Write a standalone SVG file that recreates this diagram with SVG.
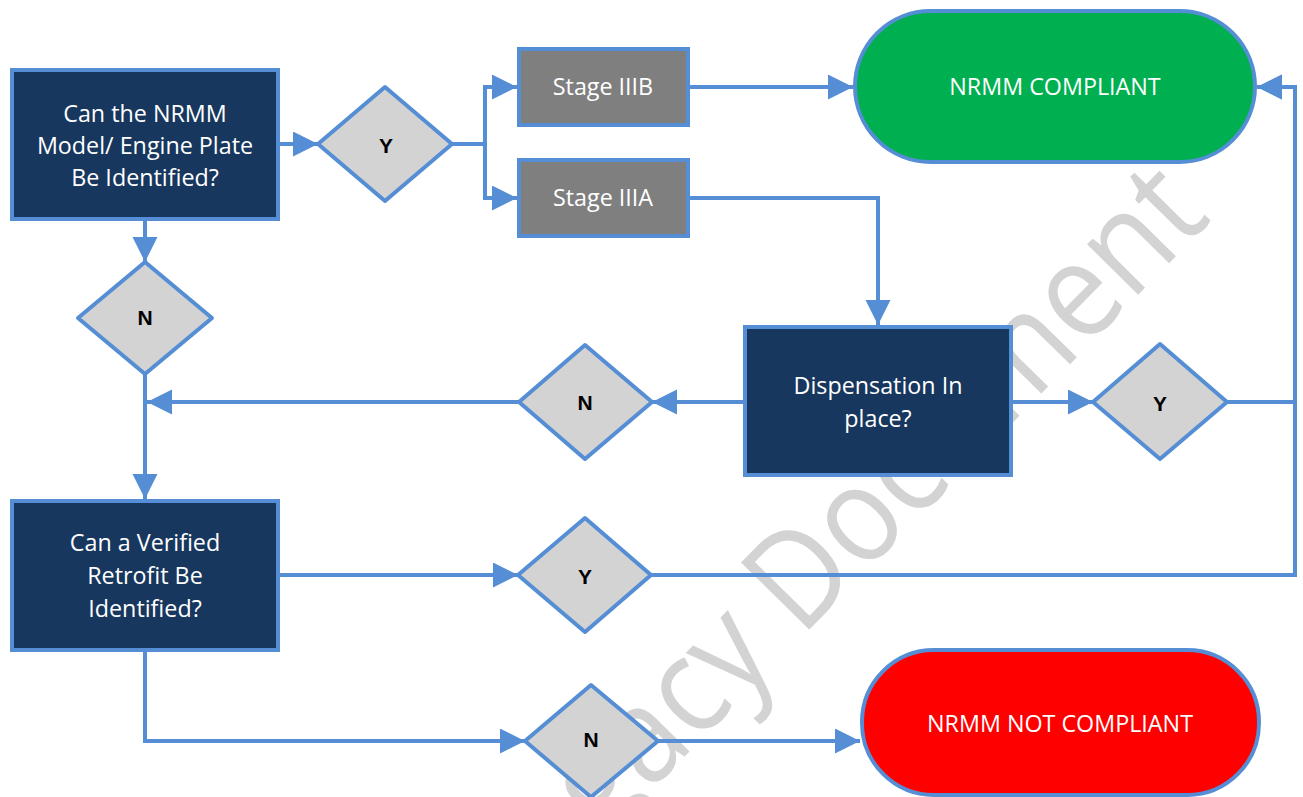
<svg xmlns="http://www.w3.org/2000/svg" width="1303" height="797" viewBox="0 0 1303 797">
  <defs>
    <marker id="arr" markerUnits="userSpaceOnUse" markerWidth="26" markerHeight="26" refX="25" refY="12.5" orient="auto">
      <path d="M0,0 L25,12.5 L0,25 z" fill="#558ED5"/>
    </marker>
    <style>
      .box { fill: #17375E; stroke: #558ED5; stroke-width: 4; }
      .stage { fill: #7F7F7F; stroke: #558ED5; stroke-width: 4; }
      .dia { fill: #D3D3D3; stroke: #558ED5; stroke-width: 4; stroke-linejoin: round; }
      .conn { fill: none; stroke: #558ED5; stroke-width: 4; }
      .t { font-family: "Open Sans", "Liberation Sans", sans-serif; font-size: 23.3px; fill: #FFFFFF; text-anchor: middle; }
      .yn { font-family: "Liberation Sans", Arial, sans-serif; font-size: 21px; font-weight: bold; fill: #000000; text-anchor: middle; }
      .wm { font-family: "Open Sans", "Liberation Sans", sans-serif; font-size: 134px; fill: #D3D3D3; }
    </style>
  </defs>
  <rect x="0" y="0" width="1303" height="797" fill="#FFFFFF"/>

  <text class="wm" x="512" y="932" textLength="1000" lengthAdjust="spacingAndGlyphs" transform="rotate(-45.5 512 932)">Legacy Document</text>

  <g id="connectors">
    <path class="conn" d="M280,144 H318" marker-end="url(#arr)"/>
    <path class="conn" d="M452,144 H485 V87 H517" marker-end="url(#arr)"/>
    <path class="conn" d="M485,144 V198 H517" marker-end="url(#arr)"/>
    <path class="conn" d="M690,87 H853" marker-end="url(#arr)"/>
    <path class="conn" d="M690,198 H878 V325" marker-end="url(#arr)"/>
    <path class="conn" d="M1013,402 H1093" marker-end="url(#arr)"/>
    <path class="conn" d="M1227,402 H1295 V87 H1257" marker-end="url(#arr)"/>
    <path class="conn" d="M743,402 H652" marker-end="url(#arr)"/>
    <path class="conn" d="M519,402 H147" marker-end="url(#arr)"/>
    <path class="conn" d="M145,221 V262" marker-end="url(#arr)"/>
    <path class="conn" d="M145,374 V499" marker-end="url(#arr)"/>
    <path class="conn" d="M280,575 H518" marker-end="url(#arr)"/>
    <path class="conn" d="M651,575 H1295 V87 H1257" marker-end="url(#arr)"/>
    <path class="conn" d="M145,651 V741 H525" marker-end="url(#arr)"/>
    <path class="conn" d="M658,741 H860" marker-end="url(#arr)"/>
  </g>

  <g id="q-engine-plate">
    <rect class="box" x="12" y="70" width="266" height="149"/>
    <text class="t" x="145" y="122">Can the NRMM</text>
    <text class="t" x="145" y="154">Model/ Engine Plate</text>
    <text class="t" x="145" y="186">Be Identified?</text>
  </g>

  <g id="d-y1">
    <polygon class="dia" points="385,87 452,144 385,201 318,144"/>
    <text class="yn" x="386" y="153">Y</text>
  </g>

  <g id="stage-iiib">
    <rect class="stage" x="519" y="49" width="169" height="76"/>
    <text class="t" x="603" y="95">Stage IIIB</text>
  </g>

  <g id="stage-iiia">
    <rect class="stage" x="519" y="160" width="169" height="76"/>
    <text class="t" x="603" y="206">Stage IIIA</text>
  </g>

  <g id="compliant">
    <rect x="855" y="11" width="400" height="151" rx="75.5" ry="75.5" fill="#00B050" stroke="#558ED5" stroke-width="4"/>
    <text class="t" x="1055" y="95">NRMM COMPLIANT</text>
  </g>

  <g id="d-n1">
    <polygon class="dia" points="145,262 212,318 145,374 78,318"/>
    <text class="yn" x="145" y="325">N</text>
  </g>

  <g id="q-dispensation">
    <rect class="box" x="745" y="327" width="266" height="148"/>
    <text class="t" x="878" y="394">Dispensation In</text>
    <text class="t" x="878" y="427">place?</text>
  </g>

  <g id="d-n2">
    <polygon class="dia" points="585,345 652,402 585,459 519,402"/>
    <text class="yn" x="585" y="410">N</text>
  </g>

  <g id="d-y2">
    <polygon class="dia" points="1160,344 1227,402 1160,459 1093,402"/>
    <text class="yn" x="1160" y="411">Y</text>
  </g>

  <g id="q-retrofit">
    <rect class="box" x="12" y="501" width="266" height="149"/>
    <text class="t" x="145" y="551">Can a Verified</text>
    <text class="t" x="145" y="584">Retrofit Be</text>
    <text class="t" x="145" y="617">Identified?</text>
  </g>

  <g id="d-y3">
    <polygon class="dia" points="585,518 651,575 585,632 518,575"/>
    <text class="yn" x="585" y="584">Y</text>
  </g>

  <g id="d-n4">
    <polygon class="dia" points="591,685 658,741 591,797 525,741"/>
    <text class="yn" x="591" y="747">N</text>
  </g>

  <g id="not-compliant">
    <rect x="862" y="650" width="397" height="145" rx="72" ry="72" fill="#FF0000" stroke="#558ED5" stroke-width="4"/>
    <text class="t" x="1060" y="732">NRMM NOT COMPLIANT</text>
  </g>
</svg>
